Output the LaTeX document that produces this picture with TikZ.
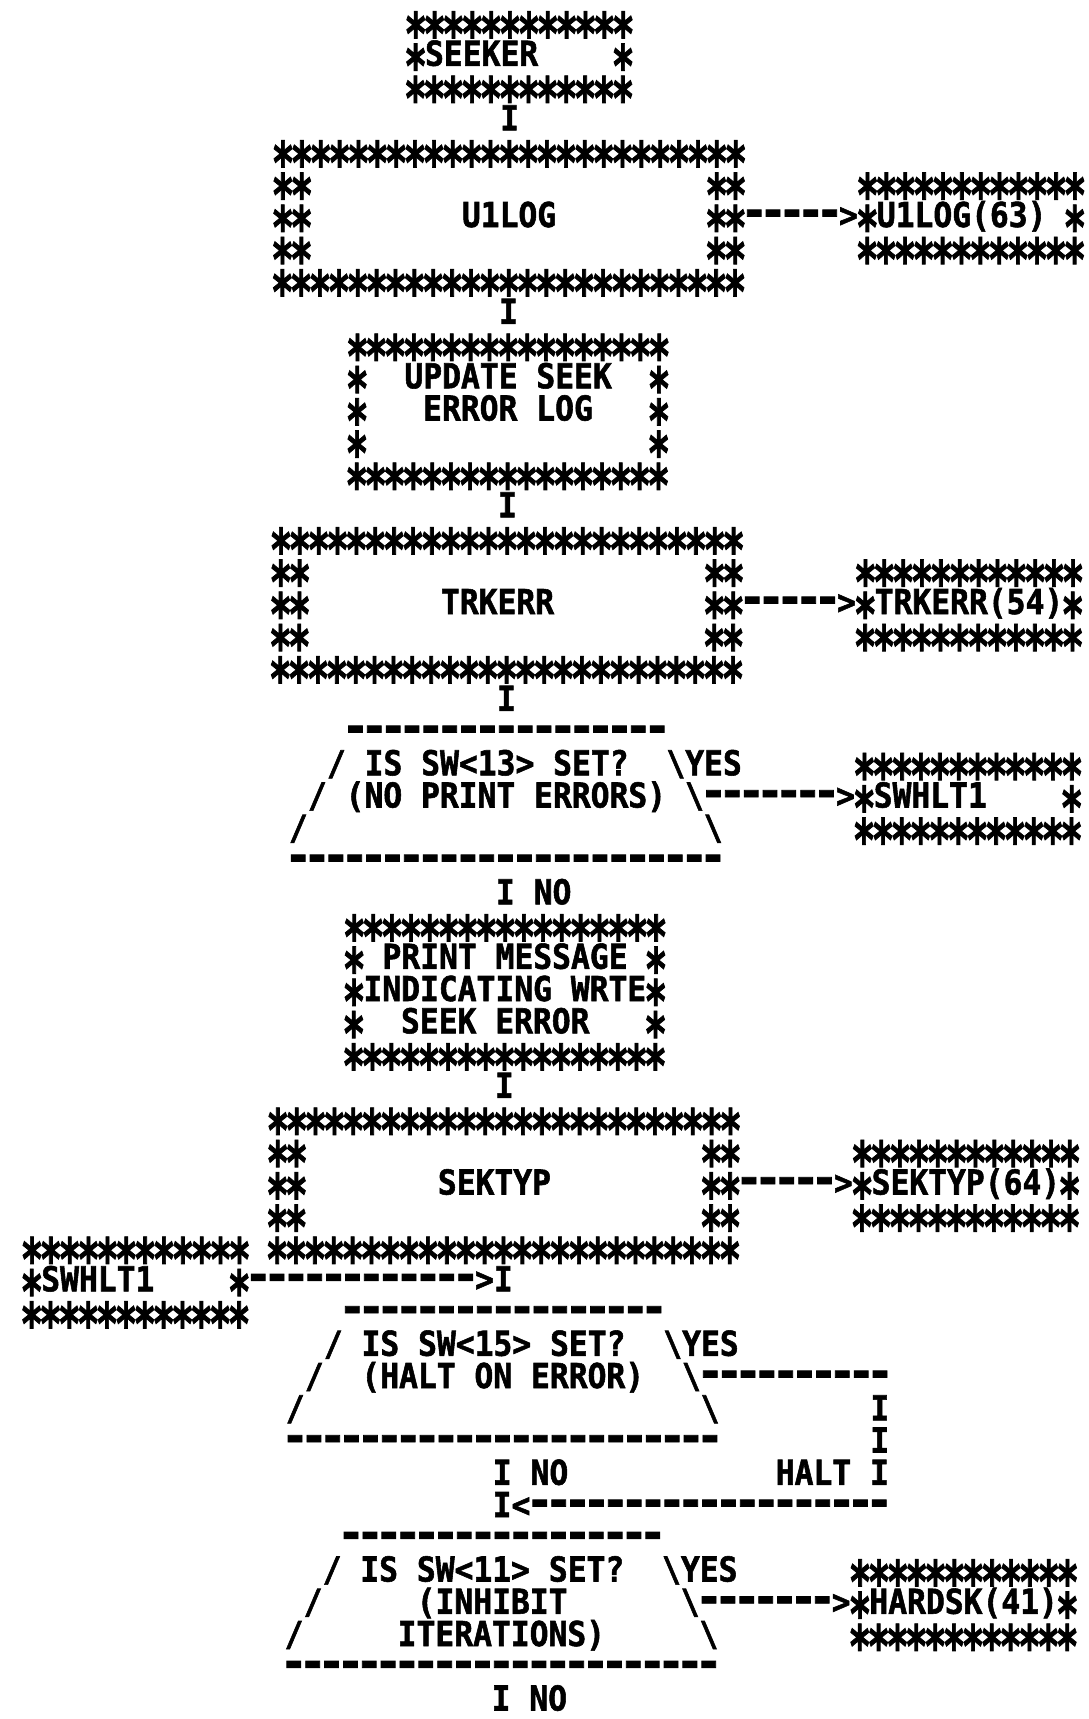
\documentclass[tikz,border=0pt]{standalone}
\usepackage{fontspec}
\usepackage{graphicx}
\newfontfamily\monofnt[FakeStretch=0.913,FakeBold=1.6]{DejaVu Sans Mono Bold}
\newlength\chw
\setlength\chw{18.86pt}
\newcommand\stA{\makebox[\chw][c]{\raisebox{-21pt}{\scalebox{1.2}[1.7]{*}}}}
\newcommand\dsA{\makebox[\chw][c]{\scalebox{1.45}[1.4]{-}}}
\newcommand\starrow[1]{\foreach\ii in {1,...,#1}{\stA}}
\newcommand\dashrow[1]{\foreach\ii in {1,...,#1}{\dsA}}
\tikzset{tx/.style={inner sep=0pt, outer sep=0pt, text height=25pt, text depth=0pt, anchor=west, font=\monofnt\fontsize{34.3}{40}\selectfont}}
% name, line, column, text
\newcommand\Tx[4]{\node[tx] (#1) at ({20.17+(#3)*18.86+9*(52-(#2))/52},{-21-32.25*(#2)}) {#4};}
\newcommand\Sr[4]{\Tx{#1}{#2}{#3}{\starrow{#4}}}
\newcommand\Dr[4]{\Tx{#1}{#2}{#3}{\dashrow{#4}}}
\begin{document}
\begin{tikzpicture}[x=1pt,y=1pt]
\fill[white] (0,0) rectangle (1089,-1719);
\useasboundingbox (0,0) rectangle (1089,-1719);
% SEEKER
\Sr{sk0}{0}{20}{12}
\Tx{sk1a}{1}{20}{\stA}\Tx{seeker}{1}{21}{SEEKER}\Tx{sk1b}{1}{31}{\stA}
\Sr{sk2}{2}{20}{12}
\Tx{v1}{3}{25}{I}
% U1LOG
\Sr{ul0}{4}{13}{25}
\Sr{ul1a}{5}{13}{2}\Sr{ul1b}{5}{36}{2}\Sr{ur0}{5}{44}{12}
\Sr{ul2a}{6}{13}{2}\Tx{ulog}{6}{23}{U1LOG}\Sr{ul2b}{6}{36}{2}
\Tx{a1}{6}{38}{\dashrow{5}>}
\Tx{ur1a}{6}{44}{\stA}\Tx{ulogref}{6}{45}{U1LOG(63)}\Tx{ur1b}{6}{55}{\stA}
\Sr{ul3a}{7}{13}{2}\Sr{ul3b}{7}{36}{2}\Sr{ur2}{7}{44}{12}
\Sr{ul4}{8}{13}{25}
\Tx{v2}{9}{25}{I}
% UPDATE SEEK ERROR LOG
\Sr{up0}{10}{17}{17}
\Tx{up1a}{11}{17}{\stA}\Tx{upd1}{11}{20}{UPDATE~SEEK}\Tx{up1b}{11}{33}{\stA}
\Tx{up2a}{12}{17}{\stA}\Tx{upd2}{12}{21}{ERROR~LOG}\Tx{up2b}{12}{33}{\stA}
\Tx{up3a}{13}{17}{\stA}\Tx{up3b}{13}{33}{\stA}
\Sr{up4}{14}{17}{17}
\Tx{v3}{15}{25}{I}
% TRKERR
\Sr{tk0}{16}{13}{25}
\Sr{tk1a}{17}{13}{2}\Sr{tk1b}{17}{36}{2}\Sr{tr0}{17}{44}{12}
\Sr{tk2a}{18}{13}{2}\Tx{trkerr}{18}{22}{TRKERR}\Sr{tk2b}{18}{36}{2}
\Tx{a2}{18}{38}{\dashrow{5}>}
\Tx{tr1a}{18}{44}{\stA}\Tx{trkref}{18}{45}{TRKERR(54)}\Tx{tr1b}{18}{55}{\stA}
\Sr{tk3a}{19}{13}{2}\Sr{tk3b}{19}{36}{2}\Sr{tr2}{19}{44}{12}
\Sr{tk4}{20}{13}{25}
\Tx{v4}{21}{25}{I}
% decision SW<13>
\Dr{d1t}{22}{17}{17}
\Tx{d1l1}{23}{16}{/}\Tx{d1q1}{23}{18}{IS~SW<13>~SET?}\Tx{d1r1}{23}{34}{\textbackslash YES}
\Sr{sw0}{23}{44}{12}
\Tx{d1l2}{24}{15}{/}\Tx{d1q2}{24}{17}{(NO~PRINT~ERRORS)}\Tx{d1r2}{24}{35}{\textbackslash}
\Tx{a3}{24}{36}{\dashrow{7}>}
\Tx{sw1a}{24}{44}{\stA}\Tx{swref}{24}{45}{SWHLT1}\Tx{sw1b}{24}{55}{\stA}
\Tx{d1l3}{25}{14}{/}\Tx{d1r3}{25}{36}{\textbackslash}\Sr{sw2}{25}{44}{12}
\Dr{d1b}{26}{14}{23}
\Tx{v5}{27}{25}{I}\Tx{no1}{27}{27}{NO}
% PRINT MESSAGE
\Sr{pm0}{28}{17}{17}
\Tx{pm1a}{29}{17}{\stA}\Tx{pm1}{29}{19}{PRINT~MESSAGE}\Tx{pm1b}{29}{33}{\stA}
\Tx{pm2a}{30}{17}{\stA}\Tx{pm2}{30}{18}{INDICATING~WRTE}\Tx{pm2b}{30}{33}{\stA}
\Tx{pm3a}{31}{17}{\stA}\Tx{pm3}{31}{20}{SEEK~ERROR}\Tx{pm3b}{31}{33}{\stA}
\Sr{pm4}{32}{17}{17}
\Tx{v6}{33}{25}{I}
% SEKTYP
\Sr{st0}{34}{13}{25}
\Sr{st1a}{35}{13}{2}\Sr{st1b}{35}{36}{2}\Sr{sr0}{35}{44}{12}
\Sr{st2a}{36}{13}{2}\Tx{sektyp}{36}{22}{SEKTYP}\Sr{st2b}{36}{36}{2}
\Tx{a4}{36}{38}{\dashrow{5}>}
\Tx{sr1a}{36}{44}{\stA}\Tx{sekref}{36}{45}{SEKTYP(64)}\Tx{sr1b}{36}{55}{\stA}
\Sr{st3a}{37}{13}{2}\Sr{st3b}{37}{36}{2}\Sr{sr2}{37}{44}{12}
\Sr{lb0}{38}{0}{12}\Sr{st4}{38}{13}{25}
\Tx{lb1a}{39}{0}{\stA}\Tx{lswhlt}{39}{1}{SWHLT1}\Tx{lb1b}{39}{11}{\stA}
\Tx{a5}{39}{12}{\dashrow{12}>}\Tx{v7}{39}{25}{I}
\Sr{lb2}{40}{0}{12}
% decision SW<15>
\Dr{d2t}{40}{17}{17}
\Tx{d2l1}{41}{16}{/}\Tx{d2q1}{41}{18}{IS~SW<15>~SET?}\Tx{d2r1}{41}{34}{\textbackslash YES}
\Tx{d2l2}{42}{15}{/}\Tx{d2q2}{42}{18}{(HALT~ON~ERROR)}\Tx{d2r2}{42}{35}{\textbackslash}
\Dr{h1}{42}{36}{10}
\Tx{d2l3}{43}{14}{/}\Tx{d2r3}{43}{36}{\textbackslash}\Tx{h2}{43}{45}{I}
\Dr{d2b}{44}{14}{23}\Tx{h3}{44}{45}{I}
\Tx{v8}{45}{25}{I}\Tx{no2}{45}{27}{NO}\Tx{halt}{45}{40}{HALT}\Tx{h4}{45}{45}{I}
\Tx{v9}{46}{25}{I}\Tx{a6}{46}{26}{<\dashrow{19}}
% decision SW<11>
\Dr{d3t}{47}{17}{17}
\Tx{d3l1}{48}{16}{/}\Tx{d3q1}{48}{18}{IS~SW<11>~SET?}\Tx{d3r1}{48}{34}{\textbackslash YES}
\Sr{hd0}{48}{44}{12}
\Tx{d3l2}{49}{15}{/}\Tx{d3q2}{49}{21}{(INHIBIT}\Tx{d3r2}{49}{35}{\textbackslash}
\Tx{a7}{49}{36}{\dashrow{7}>}
\Tx{hd1a}{49}{44}{\stA}\Tx{hdref}{49}{45}{HARDSK(41)}\Tx{hd1b}{49}{55}{\stA}
\Tx{d3l3}{50}{14}{/}\Tx{d3q3}{50}{20}{ITERATIONS)}\Tx{d3r3}{50}{36}{\textbackslash}
\Sr{hd2}{50}{44}{12}
\Dr{d3b}{51}{14}{23}
\Tx{v10}{52}{25}{I}\Tx{no3}{52}{27}{NO}
\end{tikzpicture}
\end{document}
